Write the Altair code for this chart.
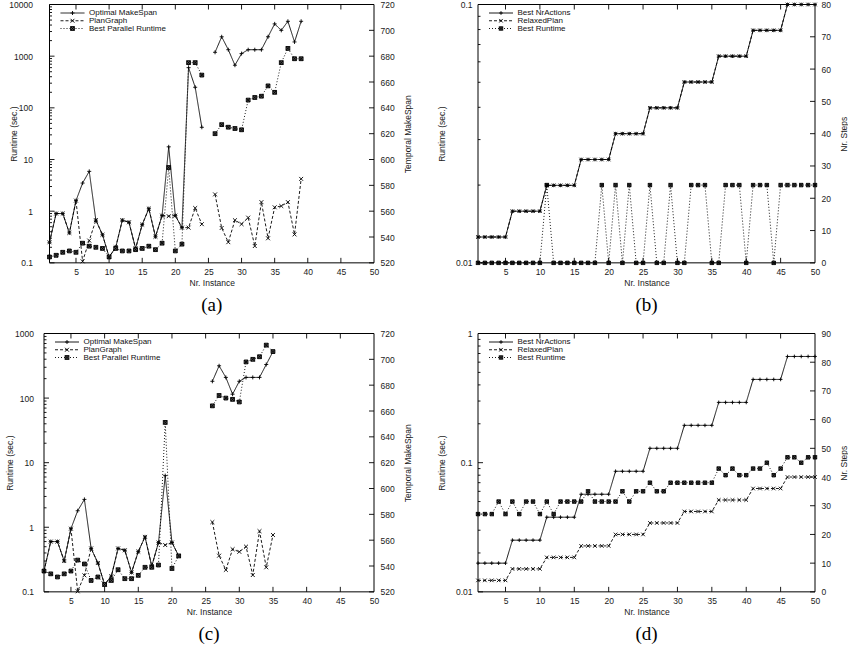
import altair as alt
import pandas as pd

FONT = "Liberation Sans"
SERIF = "Liberation Serif"

# point symbols drawn as outlines in the unit square [-1, 1]
PLUS = "M-1,0L1,0M0,-1L0,1"
CROSS = "M-1,-1L1,1M-1,1L1,-1"
STAR_BOX = "M-1,-1L1,-1L1,1L-1,1ZM-1,-1L1,1M-1,1L1,-1"
DASHES = [[1, 0], [3, 2], [1, 2]]
SHAPES = [PLUS, CROSS, STAR_BOX]
SIZES = [16, 12, 9]
FILLS = ["transparent", "transparent", "#555555"]

X_LABELS = [5, 10, 15, 20, 25, 30, 35, 40, 45, 50]
X_INNER = [5, 10, 15, 20, 25, 30, 35, 40, 45]

# ---------------- panel (a) ----------------
a_names = ["Optimal MakeSpan", "PlanGraph", "Best Parallel Runtime"]
a_x_left = list(range(1, 25))
a_opt = [0.25, 0.9, 0.9, 0.38, 1.6, 3.5, 5.9, 0.67, 0.35, 0.13, 0.2, 0.67,
         0.61, 0.19, 0.55, 1.12, 0.32, 0.82, 17.6, 0.82, 0.48, 600, 250, 42]
a_pg = [0.25, 0.9, 0.9, 0.38, 1.6, 0.107, 0.27, 0.67, 0.35, 0.13, 0.2, 0.67,
        0.61, 0.19, 0.55, 1.12, 0.32, 0.82, 0.8, 0.82, 0.48, 0.48, 1.15, 0.56]
a_bpr = [0.13, 0.14, 0.16, 0.17, 0.16, 0.24, 0.21, 0.2, 0.19, 0.13, 0.19, 0.17,
         0.17, 0.18, 0.19, 0.21, 0.18, 0.24, 7.0, 0.17, 0.23, 750, 750, 430]
a_x_right = list(range(26, 40))
a_opt_r = [683, 695, 685, 673, 682, 685, 685, 685, 695, 705, 700, 707, 691, 707]
a_pg_r = [573, 547, 536, 553, 550, 555, 533, 567, 539, 563, 564, 567, 542, 585]
a_bpr_r = [620, 627, 625, 624, 623, 646, 648, 649, 657, 652, 675, 686, 678, 678]

# ---------------- panel (b) ----------------
b_names = ["Best NrActions", "RelaxedPlan", "Best Runtime"]
b_x = list(range(1, 51))
b_nractions = [8, 8, 8, 8, 8, 16, 16, 16, 16, 16, 24, 24, 24, 24, 24,
               32, 32, 32, 32, 32, 40, 40, 40, 40, 40, 48, 48, 48, 48, 48,
               56, 56, 56, 56, 56, 64, 64, 64, 64, 64, 72, 72, 72, 72, 72,
               80, 80, 80, 80, 80]
b_relaxed = [8, 8, 8, 8, 8, 16, 16, 16, 16, 16, 24, 24, 24, 24, 24,
             32, 32, 32, 32, 32, 40, 40, 40, 40, 40, 48, 48, 48, 48, 48,
             56, 56, 56, 56, 56, 64, 64, 64, 64, 64, 72, 72, 72, 72, 72,
             80, 80, 80, 80, 80]
b_runtime = [0.01, 0.01, 0.01, 0.01, 0.01, 0.01, 0.01, 0.01, 0.01, 0.01,
             0.02, 0.01, 0.01, 0.01, 0.01, 0.01, 0.01, 0.01, 0.02, 0.01,
             0.02, 0.01, 0.02, 0.01, 0.01, 0.02, 0.01, 0.01, 0.02, 0.01,
             0.01, 0.02, 0.02, 0.02, 0.01, 0.01, 0.02, 0.02, 0.02, 0.01,
             0.02, 0.02, 0.02, 0.01, 0.02, 0.02, 0.02, 0.02, 0.02, 0.02]

# ---------------- panel (c) ----------------
c_x_left = list(range(1, 22))
c_opt = [0.21, 0.6, 0.6, 0.3, 0.95, 1.8, 2.7, 0.47, 0.28, 0.13, 0.175,
         0.47, 0.44, 0.2, 0.42, 0.71, 0.25, 0.58, 6.3, 0.58, 0.36]
c_pg = [0.21, 0.6, 0.6, 0.3, 0.95, 0.102, 0.18, 0.47, 0.28, 0.13, 0.175,
        0.47, 0.44, 0.2, 0.42, 0.71, 0.25, 0.58, 0.53, 0.58, 0.36]
c_bpr = [0.21, 0.19, 0.17, 0.19, 0.21, 0.31, 0.27, 0.15, 0.17, 0.13, 0.15,
         0.22, 0.16, 0.16, 0.18, 0.24, 0.24, 0.26, 42, 0.23, 0.36]
c_x_right = list(range(26, 36))
c_opt_r = [683, 695, 686, 673, 683, 686, 686, 686, 696, 706]
c_pg_r = [574, 548, 537, 553, 551, 555, 533, 567, 539, 564]
c_bpr_r = [664, 672, 670, 669, 667, 698, 700, 702, 711, 706]

# ---------------- panel (d) ----------------
d_x = list(range(1, 51))
d_nractions = [10, 10, 10, 10, 10, 18, 18, 18, 18, 18, 26, 26, 26, 26, 26,
               34, 34, 34, 34, 34, 42, 42, 42, 42, 42, 50, 50, 50, 50, 50,
               58, 58, 58, 58, 58, 66, 66, 66, 66, 66, 74, 74, 74, 74, 74,
               82, 82, 82, 82, 82]
d_relaxed = [4, 4, 4, 4, 4, 8, 8, 8, 8, 8, 12, 12, 12, 12, 12,
             16, 16, 16, 16, 16, 20, 20, 20, 20, 20, 24, 24, 24, 24, 24,
             28, 28, 28, 28, 28, 32, 32, 32, 32, 32, 36, 36, 36, 36, 36,
             40, 40, 40, 40, 40]
d_runtime = [0.04, 0.04, 0.04, 0.05, 0.04, 0.05, 0.04, 0.05, 0.05, 0.04,
             0.05, 0.04, 0.05, 0.05, 0.05, 0.05, 0.06, 0.05, 0.05, 0.05,
             0.05, 0.06, 0.05, 0.06, 0.06, 0.07, 0.06, 0.06, 0.07, 0.07,
             0.07, 0.07, 0.07, 0.07, 0.07, 0.09, 0.08, 0.09, 0.08, 0.08,
             0.09, 0.09, 0.1, 0.08, 0.09, 0.11, 0.11, 0.1, 0.11, 0.11]


def frame(series):
    rows = []
    for name, xs, vals in series:
        for x, v in zip(xs, vals):
            rows.append({"x": x, "v": v, "s": name})
    return pd.DataFrame(rows)


def log_minor(lo_exp, hi_exp):
    return [m * 10.0 ** k for k in range(lo_exp, hi_exp) for m in range(2, 10)]


def panel(W, H, names, left_series, right_series, ldom, lmajor, lminor,
          rdom, rticks, ltitle, rtitle, ltitle_x, rtitle_x, caption,
          x0=0.0, lpad=6):
    """One gnuplot-style panel; the plot frame spans x0..W inside the cell."""
    pw = W - x0
    dash = alt.StrokeDash("s:N", scale=alt.Scale(domain=names, range=DASHES), legend=None)
    shape = alt.Shape("s:N", scale=alt.Scale(domain=names, range=SHAPES), legend=None)
    size = alt.Size("s:N", scale=alt.Scale(domain=names, range=SIZES), legend=None)
    fill = alt.Fill("s:N", scale=alt.Scale(domain=names, range=FILLS), legend=None)

    xs = alt.Scale(domain=[1, 50], nice=False, zero=False, range=[x0, W])
    xaxis = alt.Axis(values=X_LABELS, title="Nr. Instance", labelPadding=5,
                     labelFlush=False, labelOverlap=False, titleX=x0 + pw / 2, titleY=20,
                     titleAlign="center", titleBaseline="middle", titleAngle=0)

    ls = alt.Scale(type="log", domain=ldom, nice=False)
    laxis = alt.Axis(orient="left", values=lmajor, format="~g", labelPadding=lpad - x0,
                     labelFlush=False, labelOverlap=False, title=ltitle,
                     titleX=ltitle_x + x0, titleY=H / 2, titleAngle=270,
                     titleAlign="center", titleBaseline="middle")
    rs = alt.Scale(domain=rdom, nice=False, zero=False)
    raxis = alt.Axis(orient="right", values=rticks, labelPadding=6,
                     labelFlush=False, labelOverlap=False, title=rtitle,
                     titleX=rtitle_x, titleY=H / 2, titleAngle=270,
                     titleAlign="center", titleBaseline="middle")

    def X(field):
        return alt.X(field, type="quantitative", scale=xs, axis=xaxis)

    def YL(field):
        return alt.Y(field, type="quantitative", scale=ls, axis=laxis)

    def YR(field):
        return alt.Y(field, type="quantitative", scale=rs, axis=raxis)

    line_props = dict(color="black", strokeWidth=0.9)
    pt_props = dict(color="black", filled=False, strokeWidth=0.9, opacity=1)
    tick_props = dict(color="black", strokeWidth=0.9)

    layers_left = []
    if left_series:
        ldf = frame(left_series)
        base = alt.Chart(ldf)
        layers_left.append(base.mark_line(**line_props).encode(x=X("x"), y=YL("v"), strokeDash=dash))
        layers_left.append(base.mark_point(**pt_props).encode(
            x=X("x"), y=YL("v"), shape=shape, size=size, fill=fill))
    # inward ticks on the log axis
    layers_left.append(alt.Chart(pd.DataFrame({"t": lmajor})).mark_rule(**tick_props).encode(
        y=YL("t"), x=alt.value(x0), x2=alt.value(x0 + 5)))
    layers_left.append(alt.Chart(pd.DataFrame({"t": lminor})).mark_rule(**tick_props).encode(
        y=YL("t"), x=alt.value(x0), x2=alt.value(x0 + 2.5)))
    # inward ticks on bottom and top edges
    xt = alt.Chart(pd.DataFrame({"t": X_INNER}))
    layers_left.append(xt.mark_rule(**tick_props).encode(x=X("t"), y=alt.value(H), y2=alt.value(H - 5)))
    layers_left.append(xt.mark_rule(**tick_props).encode(x=X("t"), y=alt.value(0), y2=alt.value(5)))
    # plot frame
    layers_left.append(alt.Chart(pd.DataFrame({"f": [0]})).mark_rect(
        fillOpacity=0, stroke="black", strokeWidth=1).encode(
        x=alt.value(x0), x2=alt.value(W), y=alt.value(0), y2=alt.value(H)))
    left_group = alt.layer(*layers_left)

    rdf = frame(right_series)
    rbase = alt.Chart(rdf)
    right_group = alt.layer(
        rbase.mark_line(**line_props).encode(x=X("x"), y=YR("v"), strokeDash=dash),
        rbase.mark_point(**pt_props).encode(
            x=X("x"), y=YR("v"), shape=shape, size=size, fill=fill),
        alt.Chart(pd.DataFrame({"t": rticks})).mark_rule(**tick_props).encode(
            y=YR("t"), x=alt.value(W - 5), x2=alt.value(W)),
    )

    # key in the top-left corner: line sample, symbol, label
    key = alt.Chart(pd.DataFrame({"s": names, "row": [0, 1, 2]}))
    ky = alt.Y("row:Q", scale=alt.Scale(domain=[0, 2], range=[8.5, 24]), axis=None)
    key_group = alt.layer(
        key.mark_rule(color="black", strokeWidth=0.9).encode(
            x=alt.value(x0 + 11), x2=alt.value(x0 + 35), y=ky, strokeDash=dash),
        key.mark_point(**pt_props).encode(
            x=alt.value(x0 + 23), y=ky, shape=shape, size=size, fill=fill),
        key.mark_text(align="left", baseline="middle", font=FONT, fontSize=8,
                      color="#111").encode(x=alt.value(x0 + 39.5), y=ky, text="s:N"),
    )

    cap = alt.Chart(pd.DataFrame({"c": [caption]})).mark_text(
        font=SERIF, fontSize=19, align="center", baseline="middle", color="black"
    ).encode(text="c:N", x=alt.value(x0 + pw / 2), y=alt.value(H + 42))

    return alt.layer(left_group, right_group, key_group, cap).resolve_scale(
        y="independent").properties(width=W, height=H, view=alt.ViewBackground(stroke=None))


AXIS_720 = [520, 540, 560, 580, 600, 620, 640, 660, 680, 700, 720]

pa = panel(330, 258.35, a_names,
           [(a_names[0], a_x_left, a_opt), (a_names[1], a_x_left, a_pg), (a_names[2], a_x_left, a_bpr)],
           [(a_names[0], a_x_right, a_opt_r), (a_names[1], a_x_right, a_pg_r), (a_names[2], a_x_right, a_bpr_r)],
           [0.1, 10000], [0.1, 1, 10, 100, 1000, 10000], log_minor(-1, 4),
           [520, 720], AXIS_720,
           "Runtime (sec.)", "Temporal MakeSpan", -36, 33.3, "(a)", x0=5.5, lpad=17)

pb = panel(337, 258.35, b_names,
           [(b_names[2], b_x, b_runtime)],
           [(b_names[0], b_x, b_nractions), (b_names[1], b_x, b_relaxed)],
           [0.01, 0.1], [0.01, 0.1], log_minor(-2, -1),
           [0, 80], [0, 10, 20, 30, 40, 50, 60, 70, 80],
           "Runtime (sec.)", "Nr. Steps", -37, 28.3, "(b)")

pc = panel(330, 258.35, a_names,
           [(a_names[0], c_x_left, c_opt), (a_names[1], c_x_left, c_pg), (a_names[2], c_x_left, c_bpr)],
           [(a_names[0], c_x_right, c_opt_r), (a_names[1], c_x_right, c_pg_r), (a_names[2], c_x_right, c_bpr_r)],
           [0.1, 1000], [0.1, 1, 10, 100, 1000], log_minor(-1, 3),
           [520, 720], AXIS_720,
           "Runtime (sec.)", "Temporal MakeSpan", -34.7, 33.3, "(c)", lpad=10.5)

pd_ = panel(337, 258.35, b_names,
            [(b_names[2], d_x, d_runtime)],
            [(b_names[0], d_x, d_nractions), (b_names[1], d_x, d_relaxed)],
            [0.01, 1], [0.01, 0.1, 1], log_minor(-2, 0),
            [0, 90], [0, 10, 20, 30, 40, 50, 60, 70, 80, 90],
            "Runtime (sec.)", "Nr. Steps", -37, 28.3, "(d)")

chart = alt.concat(
    pa, pb, pc, pd_, columns=2, spacing={"row": 70, "column": 104},
    bounds="flush", align="each"
).properties(
    padding={"left": 5, "top": 0.5, "right": 0, "bottom": 0}
).configure_axis(
    labelFont=FONT, labelFontSize=8.5, labelColor="#1a1a1a",
    titleFont=FONT, titleFontSize=8.5, titleFontWeight="normal", titleColor="#1a1a1a",
    grid=False, ticks=False, domain=False
).configure_view(stroke=None)

chart.save("out.html", embed_options={"renderer": "svg", "actions": False})
